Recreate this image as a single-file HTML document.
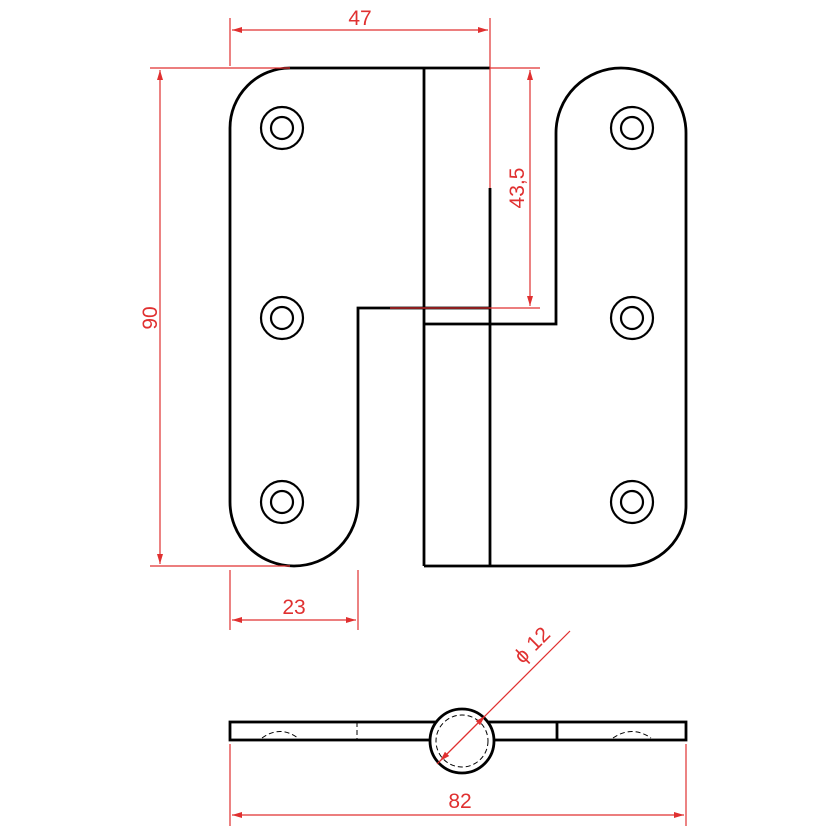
<!DOCTYPE html>
<html><head><meta charset="utf-8"><style>body{margin:0;background:#fff}svg{display:block}</style></head><body>
<svg width="838" height="838" viewBox="0 0 838 838" xmlns="http://www.w3.org/2000/svg">
<defs>
<marker id="a" viewBox="0 0 10 6" refX="10" refY="3" markerWidth="14" markerHeight="6" orient="auto-start-reverse" markerUnits="userSpaceOnUse"><path d="M0,0L10,3L0,6z" fill="#e03030"/></marker>
</defs>
<g fill="none" stroke="#000" stroke-width="2.8">
<path d="M424,68 H290 A60,60 0 0 0 230,128 V502 A64,64 0 0 0 358,502 V308 H490"/>
<line x1="424" y1="68" x2="424" y2="566"/>
<line x1="490" y1="188" x2="490" y2="566"/>
<path d="M424,324 H556 V133 A65,65 0 0 1 686,133 V506 A60,60 0 0 1 626,566 H424"/>
<line x1="424" y1="68" x2="490" y2="68"/>
<g stroke-width="2.2">
<circle cx="282" cy="128" r="21"/><circle cx="282" cy="128" r="11"/>
<circle cx="282" cy="318" r="21"/><circle cx="282" cy="318" r="11"/>
<circle cx="282" cy="502" r="21"/><circle cx="282" cy="502" r="11"/>
<circle cx="632" cy="128" r="21"/><circle cx="632" cy="128" r="11"/>
<circle cx="632" cy="318" r="21"/><circle cx="632" cy="318" r="11"/>
<circle cx="632" cy="502" r="21"/><circle cx="632" cy="502" r="11"/>
</g>
<rect x="230" y="722" width="456" height="18"/>
<line x1="557" y1="722" x2="557" y2="740"/>
<circle cx="462" cy="741" r="32" fill="#fff"/>
</g>
<g fill="none" stroke="#000" stroke-width="1" stroke-dasharray="5,3">
<circle cx="462" cy="741" r="26"/>
<line x1="357" y1="722" x2="357" y2="740"/>
<path d="M262,738 Q280,725 298,738"/><path d="M613,738 Q632,725 651,738"/>
</g>
<g stroke="#e03030" stroke-width="1.2" fill="none">
<line x1="230" y1="18" x2="230" y2="66"/><line x1="490" y1="18" x2="490" y2="188"/>
<line x1="232" y1="30" x2="488" y2="30" marker-start="url(#a)" marker-end="url(#a)"/>
<line x1="150" y1="68" x2="290" y2="68"/><line x1="150" y1="566" x2="290" y2="566"/>
<line x1="160" y1="70" x2="160" y2="564" marker-start="url(#a)" marker-end="url(#a)"/>
<line x1="490" y1="68" x2="540" y2="68"/><line x1="390" y1="308" x2="540" y2="308"/>
<line x1="530" y1="70" x2="530" y2="306" marker-start="url(#a)" marker-end="url(#a)"/>
<line x1="230" y1="570" x2="230" y2="630"/><line x1="358" y1="570" x2="358" y2="630"/>
<line x1="232" y1="620" x2="356" y2="620" marker-start="url(#a)" marker-end="url(#a)"/>
<line x1="230" y1="744" x2="230" y2="826"/><line x1="686" y1="744" x2="686" y2="826"/>
<line x1="232" y1="815" x2="684" y2="815" marker-start="url(#a)" marker-end="url(#a)"/>
<line x1="437" y1="764" x2="570" y2="631"/>
<line x1="440" y1="761" x2="485" y2="716" marker-start="url(#a)" marker-end="url(#a)"/>
</g>
<g fill="#e03030" font-family="Liberation Sans, sans-serif" font-size="21">
<text x="360" y="25" text-anchor="middle">47</text>
<text x="294" y="614" text-anchor="middle">23</text>
<text x="460" y="808" text-anchor="middle">82</text>
<text transform="translate(157,318) rotate(-90)" text-anchor="middle">90</text>
<text transform="translate(524,188) rotate(-90)" text-anchor="middle">43,5</text>
<text transform="translate(537,650) rotate(-45)" text-anchor="middle">ϕ 12</text>
</g>
</svg>
</body></html>
